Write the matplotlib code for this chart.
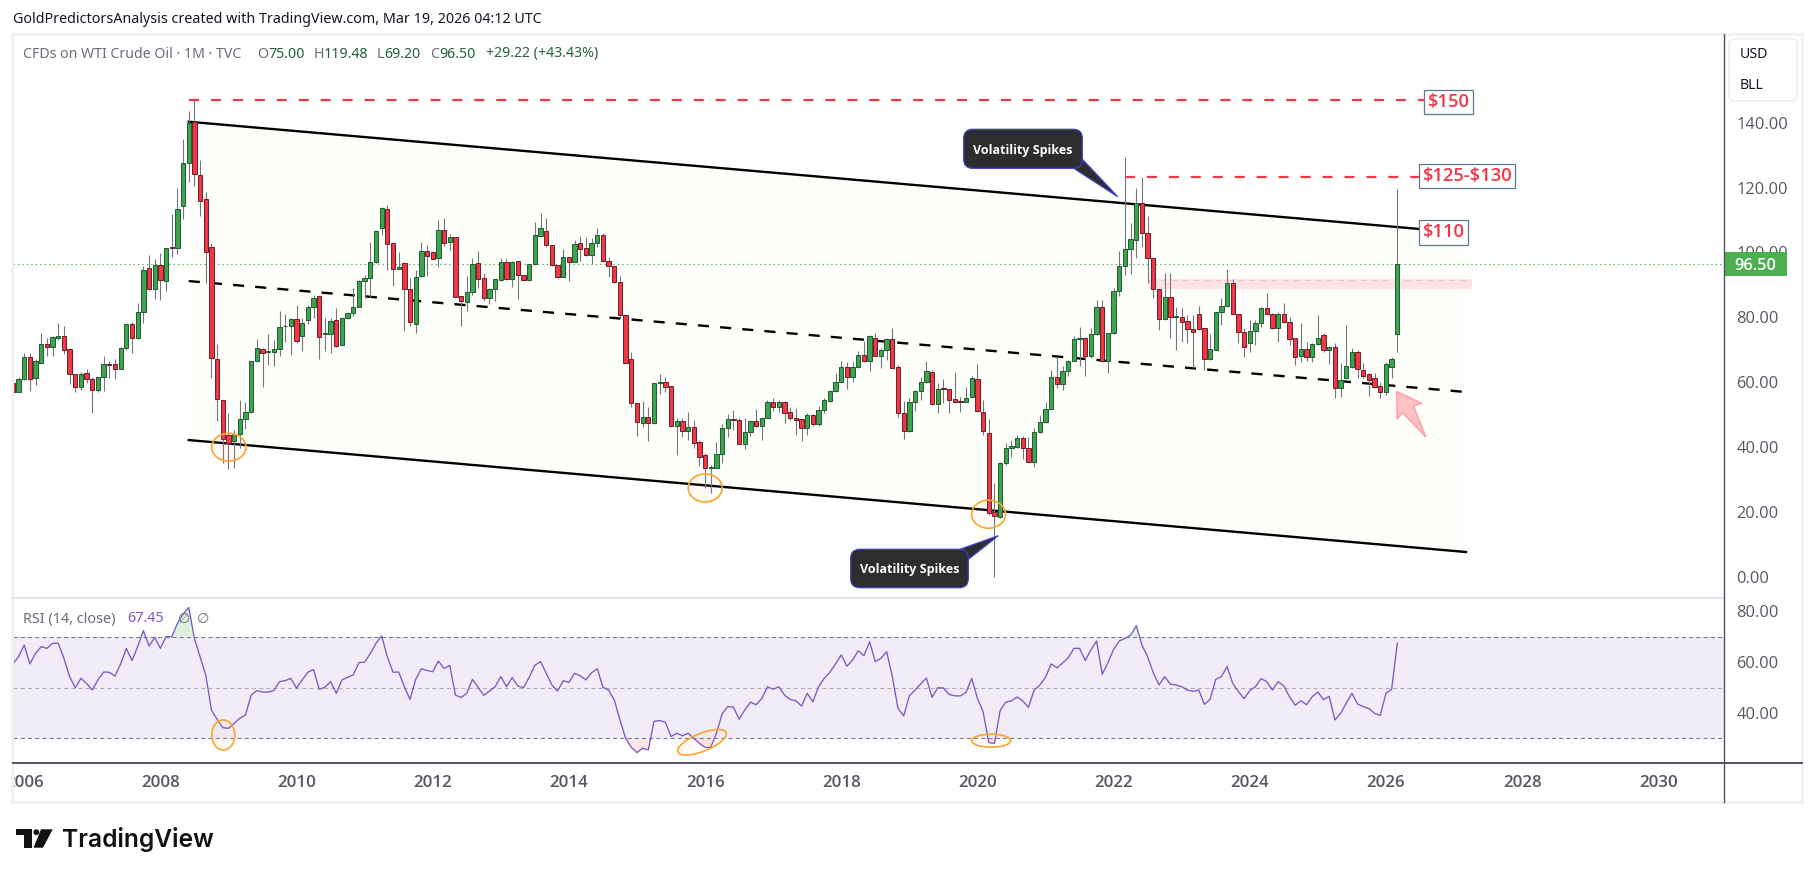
import matplotlib
matplotlib.use("Agg")
import matplotlib.pyplot as plt
import numpy as np
from matplotlib.patches import Ellipse, FancyBboxPatch, Polygon, Rectangle, Circle
from matplotlib.transforms import Bbox, blended_transform_factory

plt.rcParams["font.family"] = ["Noto Sans", "DejaVu Sans"]
plt.rcParams["lines.scale_dashes"] = False

W, H = 1814, 877

# Monthly WTI candles, November 2005 to March 2026
opens = [
    59.7, 57.1, 60.9, 67.7, 61.4, 66.1, 71.7, 71.0, 73.8, 74.2,
    70.2, 62.7, 58.5, 62.8, 60.9, 57.7, 61.5, 65.5, 65.5, 64.0,
    70.5, 77.9, 73.8, 81.6, 95.1, 88.7, 96.0, 91.1, 101.7, 101.3,
    114.4, 127.5, 140.1, 123.8, 116.4, 101.6, 67.1, 54.4, 43.7, 42.0,
    44.2, 48.7, 50.8, 66.5, 70.2, 69.4, 69.4, 70.2, 77.2, 77.2,
    79.4, 74.4, 79.3, 83.3, 86.5, 74.8, 74.8, 79.1, 71.5, 79.7,
    81.5, 83.3, 91.1, 92.0, 97.0, 107.4, 113.3, 102.8, 94.8, 96.7,
    88.7, 77.9, 92.7, 100.4, 100.1, 98.2, 106.8, 103.1, 104.8, 86.6,
    84.6, 87.7, 96.7, 92.0, 85.9, 88.7, 91.4, 97.2, 91.7, 97.3,
    93.0, 91.4, 96.4, 105.1, 106.5, 102.2, 96.0, 92.6, 98.5, 97.2,
    102.8, 101.3, 99.3, 102.8, 105.4, 97.5, 95.7, 91.0, 80.6, 67.3,
    53.5, 47.6, 49.2, 47.4, 59.7, 60.0, 58.8, 46.6, 48.0, 45.1,
    46.1, 41.5, 37.5, 33.7, 33.7, 38.0, 45.8, 48.6, 48.3, 41.1,
    44.6, 48.0, 46.6, 48.9, 53.8, 52.5, 53.8, 50.7, 48.9, 48.6,
    46.0, 50.0, 47.1, 51.4, 54.3, 57.2, 60.0, 64.6, 61.5, 64.6,
    68.3, 66.7, 73.6, 68.2, 69.8, 73.2, 64.6, 50.4, 44.9, 53.8,
    57.2, 60.0, 63.1, 53.2, 58.1, 57.8, 54.7, 54.1, 54.0, 55.6,
    60.9, 50.7, 44.3, 19.9, 18.6, 35.0, 39.6, 40.2, 42.7, 39.6,
    35.5, 44.8, 47.9, 51.9, 61.5, 59.4, 63.4, 66.7, 73.2, 73.5,
    68.2, 74.8, 83.1, 66.7, 75.1, 88.0, 95.9, 101.0, 103.7, 115.2,
    105.9, 98.2, 88.6, 79.4, 86.2, 80.2, 80.2, 78.8, 76.5, 81.2,
    76.6, 67.3, 70.1, 81.6, 83.4, 90.5, 81.2, 75.4, 72.0, 75.7,
    78.2, 83.0, 81.2, 76.8, 81.2, 78.5, 73.5, 68.2, 70.2, 67.9,
    71.7, 74.5, 69.8, 71.0, 58.1, 61.4, 64.6, 69.2, 63.7, 62.5,
    61.2, 58.8, 57.1, 64.6, 75.0,
]
highs = [
    62.3, 61.5, 69.0, 69.0, 67.1, 75.1, 73.6, 74.3, 78.2, 77.4,
    70.5, 62.7, 63.3, 64.0, 61.7, 61.7, 68.1, 66.7, 67.3, 71.0,
    78.2, 78.5, 84.3, 95.8, 99.2, 98.0, 100.0, 101.5, 111.9, 119.8,
    134.9, 143.6, 147.0, 128.5, 118.5, 102.8, 71.7, 54.4, 50.6, 45.3,
    54.6, 54.0, 66.5, 73.2, 70.5, 74.9, 73.0, 82.1, 81.1, 79.7,
    83.8, 79.7, 83.8, 86.9, 86.5, 79.7, 79.7, 82.8, 80.2, 81.8,
    89.0, 91.5, 93.1, 103.3, 106.9, 114.1, 114.6, 102.8, 100.3, 97.0,
    92.0, 94.6, 103.3, 102.3, 100.3, 110.0, 110.6, 105.7, 104.8, 86.6,
    92.8, 98.4, 100.4, 93.6, 89.0, 91.7, 98.2, 97.9, 97.5, 97.5,
    93.1, 96.4, 109.5, 112.3, 110.5, 102.2, 96.2, 101.2, 98.7, 103.9,
    105.1, 104.9, 104.4, 107.5, 106.1, 98.7, 95.7, 92.8, 80.6, 69.2,
    53.5, 54.2, 52.3, 59.7, 62.6, 61.5, 58.8, 48.9, 48.9, 50.8,
    48.4, 42.2, 38.1, 34.5, 41.7, 47.1, 50.1, 51.5, 48.9, 48.9,
    48.4, 51.7, 49.4, 54.5, 55.1, 54.5, 54.2, 52.3, 52.0, 48.6,
    50.4, 50.1, 52.7, 55.1, 57.6, 62.8, 66.5, 66.4, 66.2, 69.7,
    72.7, 74.6, 75.1, 70.5, 73.5, 76.7, 65.3, 54.2, 55.1, 57.6,
    61.7, 66.5, 63.8, 59.9, 61.0, 57.8, 63.1, 55.6, 58.7, 62.0,
    65.6, 54.5, 48.7, 28.9, 35.5, 41.4, 42.2, 43.8, 43.3, 43.0,
    45.8, 49.9, 54.0, 63.8, 67.7, 65.0, 66.9, 74.3, 77.1, 74.1,
    76.8, 85.4, 85.4, 75.1, 89.0, 100.6, 129.3, 109.0, 119.8, 123.4,
    111.2, 98.2, 88.6, 93.6, 93.6, 83.1, 82.8, 80.7, 80.7, 83.5,
    76.6, 74.9, 81.8, 85.9, 94.8, 91.8, 81.2, 76.6, 79.2, 79.2,
    83.3, 87.4, 81.5, 81.8, 84.3, 80.0, 73.8, 78.2, 72.5, 72.0,
    80.7, 75.3, 71.2, 72.0, 65.8, 77.7, 70.5, 69.9, 66.1, 62.8,
    62.8, 60.2, 66.4, 67.7, 119.48,
]
lows = [
    55.8, 56.9, 60.7, 57.3, 59.2, 66.1, 68.1, 68.1, 73.0, 68.7,
    59.6, 57.1, 57.6, 59.7, 50.6, 57.1, 57.3, 61.4, 60.9, 64.0,
    70.0, 68.9, 73.2, 78.4, 88.4, 85.7, 85.5, 88.1, 98.7, 99.5,
    110.3, 121.6, 120.5, 111.3, 90.7, 61.3, 48.1, 35.2, 33.3, 33.6,
    39.6, 45.5, 50.5, 66.4, 58.4, 65.3, 65.1, 68.1, 72.3, 68.4,
    72.2, 69.7, 77.9, 79.7, 67.3, 69.7, 69.0, 71.0, 71.2, 79.4,
    80.4, 83.3, 85.9, 86.2, 96.9, 105.4, 94.6, 89.7, 94.8, 75.9,
    77.2, 75.1, 92.4, 92.8, 97.7, 95.6, 102.1, 100.8, 86.2, 77.4,
    82.1, 86.9, 89.0, 84.9, 84.1, 85.2, 91.3, 91.5, 89.5, 85.7,
    91.2, 91.3, 96.2, 104.9, 101.8, 95.8, 92.0, 92.4, 91.3, 97.1,
    97.4, 99.0, 96.4, 101.8, 97.2, 92.6, 90.5, 79.7, 65.8, 52.5,
    43.6, 46.3, 42.0, 47.3, 56.4, 57.1, 46.6, 37.6, 43.2, 42.2,
    39.7, 34.3, 27.5, 26.0, 33.5, 35.2, 43.2, 45.3, 40.9, 39.4,
    43.5, 46.3, 42.2, 48.9, 51.3, 50.9, 47.4, 48.4, 43.8, 42.0,
    43.8, 46.6, 46.5, 50.4, 54.0, 57.1, 59.7, 57.9, 60.2, 64.3,
    66.4, 63.5, 68.2, 64.5, 66.9, 64.5, 49.4, 42.4, 44.6, 51.3,
    54.6, 59.7, 53.0, 50.6, 53.5, 50.6, 53.5, 50.8, 53.8, 55.3,
    51.0, 43.8, 19.1, 0.1, 18.3, 34.5, 37.1, 39.7, 36.3, 35.2,
    33.8, 44.3, 47.6, 51.7, 58.2, 57.6, 61.8, 66.7, 65.1, 61.8,
    67.4, 74.6, 66.6, 62.8, 74.9, 86.7, 93.1, 93.3, 98.4, 101.6,
    90.5, 85.9, 76.1, 79.2, 73.8, 69.9, 72.5, 72.2, 64.5, 76.1,
    63.8, 66.9, 70.0, 77.7, 83.3, 80.7, 72.2, 67.9, 69.4, 71.5,
    76.9, 81.0, 76.3, 72.5, 78.2, 71.5, 65.3, 66.4, 66.7, 66.4,
    71.5, 69.4, 65.5, 55.3, 55.6, 61.2, 64.5, 61.2, 61.2, 55.9,
    58.1, 55.1, 56.1, 61.2, 69.2,
]
closes = [
    57.1, 60.9, 67.7, 61.1, 66.5, 71.7, 71.0, 73.9, 74.2, 70.1,
    62.7, 58.5, 62.7, 60.9, 57.7, 61.5, 65.5, 65.4, 64.0, 70.5,
    77.9, 73.6, 81.6, 94.5, 88.7, 96.2, 91.6, 101.5, 101.5, 113.3,
    127.5, 139.8, 124.1, 115.8, 100.3, 67.4, 54.8, 42.4, 41.4, 44.0,
    48.6, 50.8, 66.5, 70.5, 69.1, 69.7, 70.2, 77.0, 77.4, 79.4,
    72.6, 78.2, 83.1, 85.9, 73.9, 75.1, 78.8, 71.3, 79.7, 81.3,
    83.3, 91.1, 92.0, 97.0, 106.5, 113.7, 102.5, 94.8, 95.5, 88.7,
    78.5, 92.3, 100.4, 98.8, 98.1, 106.8, 102.8, 104.8, 86.4, 84.9,
    87.7, 96.4, 91.7, 85.9, 88.7, 91.7, 97.2, 91.7, 97.0, 93.0,
    91.4, 96.4, 105.3, 107.4, 102.2, 96.0, 92.6, 98.5, 97.2, 102.5,
    101.2, 99.3, 102.8, 105.3, 97.5, 95.7, 91.0, 80.6, 65.8, 53.5,
    47.7, 49.2, 47.4, 59.7, 60.0, 58.6, 46.6, 48.0, 45.1, 46.1,
    41.4, 36.9, 33.5, 33.9, 37.8, 45.8, 48.6, 48.3, 41.1, 44.6,
    48.0, 46.6, 48.9, 53.8, 52.5, 53.8, 50.6, 48.9, 48.5, 46.0,
    50.0, 47.1, 51.4, 54.4, 57.2, 60.0, 64.6, 61.5, 64.6, 68.3,
    66.7, 74.2, 68.2, 69.8, 73.2, 64.5, 50.4, 45.1, 53.8, 57.2,
    60.0, 63.4, 53.2, 58.0, 57.8, 54.6, 54.0, 54.0, 55.1, 61.2,
    51.3, 45.1, 19.8, 18.9, 35.0, 39.6, 40.4, 42.7, 39.6, 35.5,
    44.8, 47.9, 51.9, 61.5, 59.4, 63.4, 66.5, 73.2, 73.5, 68.2,
    74.8, 83.1, 66.7, 75.1, 88.1, 95.8, 101.0, 104.1, 115.2, 105.9,
    98.2, 88.6, 79.4, 86.2, 80.2, 80.4, 78.7, 76.5, 75.4, 76.3,
    67.3, 70.2, 81.6, 83.4, 90.5, 81.2, 75.4, 71.0, 75.7, 78.2,
    82.8, 81.2, 76.8, 81.2, 78.5, 73.3, 67.9, 70.2, 67.9, 71.7,
    73.5, 69.8, 71.0, 58.1, 60.6, 64.9, 69.2, 64.0, 62.0, 60.6,
    58.5, 57.1, 65.5, 67.1, 96.5,
]
rsi_values = [
    59.3, 62.1, 66.7, 59.3, 63.4, 66.1, 65.4, 67.4, 67.4, 61.5,
    54.3, 49.9, 53.6, 51.6, 49.0, 53.0, 56.1, 56.0, 54.5, 59.3,
    65.4, 60.6, 66.1, 72.4, 66.3, 69.7, 65.4, 70.0, 70.0, 75.2,
    78.9, 81.5, 69.3, 62.1, 54.9, 41.1, 37.5, 34.2, 33.9, 35.9,
    37.9, 39.2, 47.0, 48.8, 48.2, 48.2, 48.8, 52.3, 52.7, 53.6,
    49.7, 53.0, 56.0, 57.1, 49.3, 50.1, 52.3, 47.7, 53.0, 54.0,
    55.0, 59.8, 60.0, 63.4, 67.4, 70.3, 62.1, 56.0, 56.1, 50.3,
    45.3, 53.2, 57.4, 56.7, 56.2, 60.4, 57.5, 58.7, 47.0, 46.1,
    47.7, 53.2, 50.1, 46.9, 48.6, 50.3, 54.3, 50.3, 53.9, 50.6,
    49.9, 54.0, 58.7, 60.2, 55.6, 51.0, 48.6, 52.7, 52.0, 55.6,
    54.6, 53.0, 55.8, 57.4, 50.1, 49.0, 45.1, 37.2, 30.0, 26.4,
    24.4, 26.1, 25.4, 36.7, 37.0, 36.3, 30.7, 32.0, 31.0, 32.0,
    30.0, 28.0, 26.4, 26.4, 32.0, 39.6, 42.5, 42.3, 37.5, 41.1,
    44.2, 43.2, 45.7, 50.3, 49.3, 50.3, 47.0, 45.3, 44.8, 42.7,
    47.7, 44.4, 50.3, 53.6, 56.0, 59.3, 62.8, 58.4, 60.8, 64.5,
    62.5, 68.0, 60.2, 61.5, 64.1, 54.3, 41.8, 38.8, 46.7, 49.0,
    51.4, 53.7, 46.1, 49.9, 49.8, 47.3, 46.7, 46.7, 48.1, 53.6,
    45.7, 40.5, 28.3, 28.0, 40.9, 44.3, 44.7, 46.3, 44.7, 42.2,
    49.0, 51.0, 54.0, 59.3, 57.7, 59.6, 61.7, 65.4, 65.4, 60.6,
    64.8, 68.3, 55.2, 59.8, 65.0, 68.3, 69.3, 70.6, 74.3, 66.7,
    62.1, 55.8, 51.0, 54.3, 51.3, 51.0, 50.3, 49.0, 48.5, 49.0,
    43.4, 45.3, 53.2, 54.3, 58.2, 51.6, 48.4, 45.6, 48.8, 50.3,
    53.5, 52.3, 49.0, 52.3, 50.6, 46.4, 43.0, 44.8, 43.2, 46.4,
    48.2, 45.2, 46.5, 37.2, 39.8, 43.8, 47.7, 43.5, 42.5, 41.7,
    39.8, 39.0, 47.7, 49.3, 67.45,
]
months = np.arange(-2, 243)  # months since January 2006

year_labels = list(range(2006, 2031, 2))
price_ticks = [0, 20, 40, 60, 80, 100, 120, 140]
rsi_ticks = [40, 60, 80]
rsi_levels = [70, 50, 30]
last_price = 96.5

# Channel drawn on the chart: (month, price) end points
channel_months = [29.0, 254.1]
channel_upper = [140.3, 106.0]
channel_middle = [91.2, 57.0]
channel_lower = [42.2, 7.7]

GREEN_FILL, GREEN_EDGE = "#3fa34d", "#1d5c34"
RED_FILL, RED_EDGE = "#f23645", "#6b1f28"
LABEL_RED = "#f23645"
AXIS_TEXT = "#555862"
HEAVY_FONT = "Open Sans"


def px_box(left, top, right, bottom):
    return [left / W, 1 - bottom / H, (right - left) / W, (bottom - top) / H]


fig = plt.figure(figsize=(W / 100, H / 100), dpi=100, facecolor="white")

pane_left, pane_right = 13, 1724
month_lim = ((pane_left - 24.2) / 5.674, (pane_right - 24.2) / 5.674)

ax = fig.add_axes(px_box(pane_left, 34, pane_right, 598))
ax.set_xlim(*month_lim)
ax.set_ylim((577 - 598) / 3.245, (577 - 34) / 3.245)

rsi_ax = fig.add_axes(px_box(pane_left, 598, pane_right, 762.7), sharex=ax)
rsi_ax.set_ylim((814.5 - 762.7) / 2.54, (814.5 - 598) / 2.54)

for a in (ax, rsi_ax):
    for s in a.spines.values():
        s.set_visible(False)
    a.yaxis.tick_right()
    a.tick_params(axis="y", length=0, pad=9, labelsize=11.8, labelcolor=AXIS_TEXT)
    a.patch.set_alpha(0)

# Main pane: channel background, price level lines, candles
ax.fill_between(channel_months, channel_lower, channel_upper, color="#fefefa", zorder=0.5, lw=0)
ax.add_patch(Rectangle((198.2, 88.8), 56.9, 2.9, facecolor="#fce4e5", edgecolor="none", zorder=0.7))
ax.plot([198.2, 255.1], [91.4, 91.4], color="#f8bcc1", lw=0.7, ls=(0, (4, 4)), zorder=0.8)

ax.axhline(last_price, color="#4caf50", lw=0.8, ls=(0, (1, 2.2)), zorder=1)
ax.plot([29.0, 247.4], [147.0, 147.0], color=LABEL_RED, lw=1.6, ls=(0, (7.2, 8.6)), zorder=2)
ax.plot([194.0, 246.0], [123.3, 123.3], color=LABEL_RED, lw=1.6, ls=(0, (7.2, 8.6)), zorder=2)

ax.plot(channel_months, channel_upper, color="black", lw=1.7, zorder=2)
ax.plot(channel_months, channel_lower, color="black", lw=1.7, zorder=2)
ax.plot(channel_months, channel_middle, color="black", lw=1.7, ls=(0, (8, 8)), zorder=2)

o, h, l, c = map(np.array, (opens, highs, lows, closes))
rising = c >= o
ax.vlines(months, l, h, color="#73767c", lw=0.8, zorder=3)
ax.bar(months, np.maximum(np.abs(c - o), 0.15), bottom=np.minimum(o, c), width=0.76,
       color=np.where(rising, GREEN_FILL, RED_FILL),
       edgecolor=np.where(rising, GREEN_EDGE, RED_EDGE), linewidth=0.7, zorder=4)

ax.set_yticks(price_ticks)
ax.set_yticklabels([f"{v:.2f}" for v in price_ticks], fontweight="medium")
ax.tick_params(axis="x", length=0, labelbottom=False)


def target_label(text, month, price):
    ax.text(month, price, text.replace("$", r"\$"), color=LABEL_RED, fontsize=13.2, fontweight="semibold",
            family=HEAVY_FONT, ha="center", va="center_baseline", zorder=6,
            bbox=dict(boxstyle="square,pad=0.18", facecolor="white", edgecolor="#5f7a8e", linewidth=0.9))


target_label("$150", 251.0, 147.0)
target_label("$125-$130", 254.3, 124.2)
target_label("$110", 250.1, 106.8)

# Last-price tag on the price axis
tag_tf = blended_transform_factory(ax.transAxes, ax.transData)
ax.add_patch(Rectangle((1.0, last_price - 3.75), 62.5 / 1711, 7.5, transform=tag_tf, facecolor="#4caf50",
                       edgecolor="none", clip_on=False, zorder=7))
ax.text(1 + 31.5 / 1711, last_price, f"{last_price:.2f}", transform=tag_tf, color="white", fontsize=11.8,
        fontweight="semibold", family=HEAVY_FONT, ha="center", va="center_baseline", zorder=8, clip_on=False)

# RSI pane
rsi = np.array(rsi_values)
rsi_ax.axhspan(30, 70, color="#f0ecf8", lw=0, zorder=0.5)
rsi_ax.fill_between(months, rsi, 70, where=rsi > 70, interpolate=True, color="#4caf50", alpha=0.18, lw=0, zorder=1)
rsi_ax.fill_between(months, rsi, 30, where=rsi < 30, interpolate=True, color="#f23645", alpha=0.12, lw=0, zorder=1)
for level in rsi_levels:
    rsi_ax.axhline(level, color="#787b86", lw=0.8, ls=(0, (3, 2.2)), alpha=1 if level != 50 else 0.55, zorder=1.5)
rsi_ax.plot(months, rsi, color="#7e57c2", lw=0.95, zorder=3)
rsi_ax.set_yticks(rsi_ticks)
rsi_ax.set_yticklabels([f"{v:.2f}" for v in rsi_ticks], fontweight="medium")

rsi_ax.set_xticks([(y - 2006) * 12 for y in year_labels])
rsi_ax.set_xticklabels([str(y) for y in year_labels])
rsi_ax.tick_params(axis="x", length=0, pad=9, labelsize=12.2, labelcolor=AXIS_TEXT)
frame_clip = Bbox([[pane_left, 0], [pane_right, H]])
for tick in rsi_ax.xaxis.get_major_ticks():
    tick.label1.set_family(HEAVY_FONT)
    tick.label1.set_fontweight("semibold")
    tick.label1.set_clip_box(frame_clip)
    tick.label1.set_clip_on(True)
for a in (ax, rsi_ax):
    for lab in a.get_yticklabels():
        lab.set_family(HEAVY_FONT)

# Page furniture and drawings, laid out in pixels on a full-figure layer
top = fig.add_axes([0, 0, 1, 1], zorder=10)
top.set_xlim(0, W)
top.set_ylim(H, 0)
top.axis("off")
top.patch.set_alpha(0)

frame = "#f0f1f4"
top.add_patch(Rectangle((12, 33.5), 1790, 768.5, fill=False, edgecolor=frame, linewidth=2.2))
top.plot([13, 1724], [598, 598], color="#e0e3eb", lw=1.4)
top.plot([1724, 1724], [34, 802], color="#50535e", lw=1.0)
top.plot([13, 1802], [762.7, 762.7], color="#50535e", lw=1.4)

top.text(13, 19.5, "GoldPredictorsAnalysis created with TradingView.com, Mar 19, 2026 04:12 UTC",
         fontsize=10.3, color="#131722", va="center")
top.text(23, 54, "CFDs on WTI Crude Oil \u00b7 1M \u00b7 TVC", fontsize=10.2, color="#6a6d78", va="center")
ohlc_green = "#22603f"
for x, letter, val in [(257, "O", "75.00"), (313.5, "H", "119.48"), (377, "L", "69.20"), (430, "C", "96.50")]:
    t = top.text(x, 54, letter, fontsize=10.2, color="#6a6d78", va="center")
    top.annotate(val, xy=(1, 0.5), xycoords=t, xytext=(0, 0), textcoords="offset points",
                 fontsize=10.2, color=ohlc_green, va="center")
top.text(486, 54, "+29.22 (+43.43%)", fontsize=10.2, color=ohlc_green, va="center")

top.text(23, 619, "RSI (14, close)", fontsize=10.4, color="#6a6d78", va="center")
top.text(127.5, 619, "67.45", fontsize=10.4, color="#7e57c2", va="center")
top.text(178, 619, "\u2205", fontsize=10.2, color="#6a6d78", va="center", family="DejaVu Sans")
top.text(197, 619, "\u2205", fontsize=10.2, color="#6a6d78", va="center", family="DejaVu Sans")

top.add_patch(FancyBboxPatch((1732, 42), 62, 56, boxstyle="round,pad=3,rounding_size=5",
                             facecolor="white", edgecolor="#f0f1f4", linewidth=1.4))
top.text(1740, 54.5, "USD", fontsize=10.2, color="#131722", va="center")
top.text(1740, 85.5, "BLL", fontsize=10.2, color="#131722", va="center")


def callout(x0, y0, x1, y1, tail, text):
    bubble = "#2d2d30"
    edge = "#3f3fc8"
    top.add_patch(Polygon(tail, closed=True, facecolor=bubble, edgecolor=edge, linewidth=0.9, zorder=5))
    top.add_patch(FancyBboxPatch((x0 + 9, y0 + 9), x1 - x0 - 18, y1 - y0 - 18,
                                 boxstyle="round,pad=9,rounding_size=9",
                                 facecolor=bubble, edgecolor=edge, linewidth=0.9, zorder=6))
    top.add_patch(Polygon(tail[:1] + tail[2:], closed=True, facecolor=bubble, edgecolor="none", zorder=7))
    top.text((x0 + x1) / 2, (y0 + y1) / 2, text, color="white", fontsize=9.0, fontweight="bold",
             family=HEAVY_FONT, ha="center", va="center_baseline", zorder=8)


callout(963.7, 129.3, 1082.3, 168.3, [(1071.7, 167), (1117.7, 196.7), (1081.5, 158.3)], "Volatility Spikes")
callout(850.7, 549.3, 968.3, 587.7, [(958, 550), (998.3, 535.7), (967.5, 560)], "Volatility Spikes")

for cx, cy, w, hgt, ang in [(228.8, 447.2, 34.4, 27.7, 0), (705.2, 488, 34, 28, 0), (988.6, 514.2, 34, 28, 0),
                            (223.3, 735, 23, 30, 0), (702, 742.3, 52, 18, -22), (991.2, 740.7, 39, 13, 0)]:
    top.add_patch(Ellipse((cx, cy), w, hgt, angle=ang, facecolor=(1.0, 0.6, 0.5, 0.05),
                          edgecolor="#f9a72b", linewidth=1.2))

top.add_patch(Polygon([(1396.7, 391.7), (1421.7, 403.3), (1413.3, 405.7), (1425.7, 436.7),
                       (1402.3, 412.3), (1397.3, 419)], closed=True,
                      facecolor="#ffc1c6", edgecolor="#ffa3aa", linewidth=1.2, joinstyle="round"))

# TradingView mark and wordmark
logo = "#111111"
top.add_patch(Polygon([(15.7, 829.3), (31.7, 829.3), (31.7, 847.7), (23.5, 847.7), (23.5, 835), (15.7, 835)],
                      closed=True, facecolor=logo, edgecolor="none"))
top.add_patch(Circle((36.3, 832.2), 2.9, facecolor=logo, edgecolor="none"))
top.add_patch(Polygon([(41, 829.3), (52.7, 829.3), (43, 847.7), (33.5, 847.7)], closed=True,
                      facecolor=logo, edgecolor="none"))
top.text(62, 839, "TradingView", fontsize=17.7, fontweight="semibold", family="Inter", color=logo, va="center")

fig.savefig("out.png", dpi=100, facecolor="white")
